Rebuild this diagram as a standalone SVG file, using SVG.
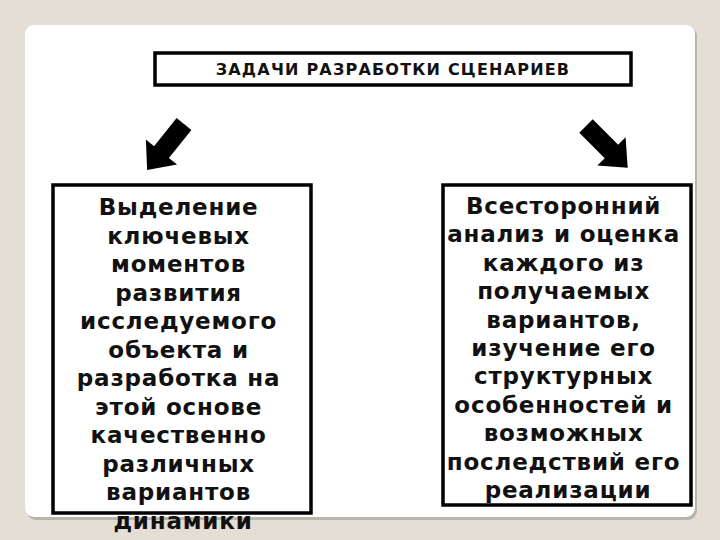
<svg xmlns="http://www.w3.org/2000/svg" width="720" height="540" viewBox="0 0 720 540">
<defs>
<style>
.box{fill:#fff;stroke:#000;stroke-width:3.5}
.t{font-family:"DejaVu Sans",Verdana,sans-serif;font-weight:bold;fill:#111;text-anchor:middle}
.body{font-size:23px;letter-spacing:0.8px}
.title{font-size:16px;letter-spacing:1.2px}
.arrow{fill:#000}
</style>
</defs>
<rect x="0" y="0" width="720" height="540" fill="#e4ded5"/>
<rect x="27" y="27" width="670" height="493" rx="9" fill="#b8b4ae"/>
<rect x="25" y="25" width="670" height="492" rx="9" fill="#fff"/>
<g id="title">
<rect class="box" x="155" y="53" width="476" height="32"/>
<text class="t title" x="393" y="75">ЗАДАЧИ РАЗРАБОТКИ СЦЕНАРИЕВ</text>
</g>
<g id="connectors">
<polygon class="arrow" transform="translate(184,124) rotate(128.7)" points="0,-9.5 36,-9.5 36,-20 59,0 36,20 36,9.5 0,9.5"/>
<polygon class="arrow" transform="translate(586,126) rotate(45)" points="0,-9.5 36,-9.5 36,-20 59,0 36,20 36,9.5 0,9.5"/>
</g>
<g id="left">
<rect class="box" x="53" y="185" width="258" height="328"/>
<text class="t body" x="183" y="215">
<tspan x="183">Выделение</tspan>
<tspan x="183" dy="28.5">ключевых</tspan>
<tspan x="183" dy="28.5">моментов</tspan>
<tspan x="183" dy="28.5">развития</tspan>
<tspan x="183" dy="28.5">исследуемого</tspan>
<tspan x="183" dy="28.5">объекта и</tspan>
<tspan x="183" dy="28.5">разработка на</tspan>
<tspan x="183" dy="28.5">этой основе</tspan>
<tspan x="183" dy="28.5">качественно</tspan>
<tspan x="183" dy="28.5">различных</tspan>
<tspan x="183" dy="28.5">вариантов</tspan>
<tspan x="183" dy="28.5">динамики</tspan>
</text>
</g>
<g id="right">
<rect class="box" x="443" y="185" width="248" height="320"/>
<text class="t body" x="568" y="214">
<tspan x="568">Всесторонний</tspan>
<tspan x="568" dy="28.4">анализ и оценка</tspan>
<tspan x="568" dy="28.4">каждого из</tspan>
<tspan x="568" dy="28.4">получаемых</tspan>
<tspan x="568" dy="28.4">вариантов,</tspan>
<tspan x="568" dy="28.4">изучение его</tspan>
<tspan x="568" dy="28.4">структурных</tspan>
<tspan x="568" dy="28.4">особенностей и</tspan>
<tspan x="568" dy="28.4">возможных</tspan>
<tspan x="568" dy="28.4">последствий его</tspan>
<tspan x="568" dy="28.4">реализации</tspan>
</text>
</g>
</svg>
